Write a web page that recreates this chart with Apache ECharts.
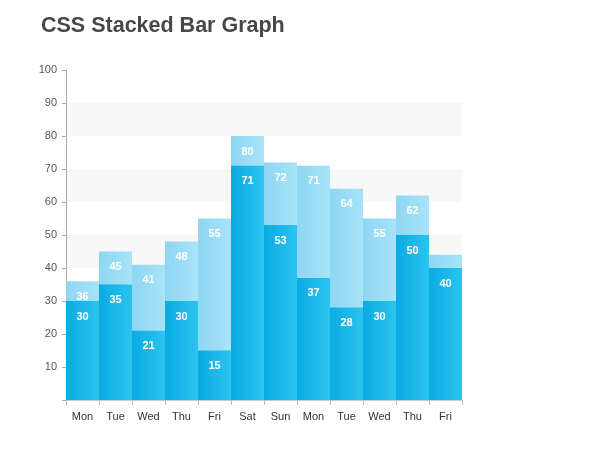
<!DOCTYPE html>
<html>
<head>
<meta charset="utf-8">
<script src="https://cdn.jsdelivr.net/npm/echarts@6/dist/echarts.min.js"></script>
<style>html,body{margin:0;padding:0;background:#fff;}#c{width:600px;height:454px;}</style>
</head>
<body>
<div id="c"></div>
<script>
var categories = ['Mon','Tue','Wed','Thu','Fri','Sat','Sun','Mon','Tue','Wed','Thu','Fri'];
var totalValues = [36,45,41,48,55,80,72,71,64,55,62,44];
var baseValues = [30,35,21,30,15,71,53,37,28,30,50,40];
var showTotalLabel = [true,true,true,true,true,true,true,true,true,true,true,false];

var chart = echarts.init(document.getElementById('c'));
function grad(a, b) {
  return new echarts.graphic.LinearGradient(0, 0, 1, 0, [{offset: 0, color: a}, {offset: 1, color: b}]);
}
var labelStyle = {show: true, position: 'insideTop', distance: 10, color: '#fff', fontWeight: 'bold', fontSize: 11, fontFamily: 'Liberation Sans, Arial, sans-serif'};
chart.setOption({
  animation: false,
  title: {text: 'CSS Stacked Bar Graph', left: 36, top: 10, textStyle: {fontFamily: 'Liberation Sans, Arial, sans-serif', fontWeight: 'bold', fontSize: 21.5, color: '#474747'}},
  grid: {left: 66, right: 138, top: 70, bottom: 54},
  xAxis: {
    type: 'category', data: categories,
    axisLine: {show: true, lineStyle: {color: '#ccc'}},
    axisTick: {show: true, length: 5, lineStyle: {color: '#bbb'}},
    axisLabel: {color: '#333', fontSize: 11, margin: 11, fontFamily: 'Liberation Sans, Arial, sans-serif'}
  },
  yAxis: {
    type: 'value', min: 0, max: 100, interval: 10,
    axisLine: {show: true, lineStyle: {color: '#aaa'}},
    axisTick: {show: true, length: 4, lineStyle: {color: '#aaa'}},
    axisLabel: {color: '#555', fontSize: 11, margin: 9, fontFamily: 'Liberation Sans, Arial, sans-serif', formatter: function (v) { return v === 0 ? '' : v; }},
    splitLine: {show: false},
    splitArea: {show: true, areaStyle: {color: ['#f8f8f8', '#ffffff']}}
  },
  series: [
    {
      type: 'bar', barGap: '-100%', barCategoryGap: 0,
      data: totalValues.map(function (v, i) { return {value: v, label: {show: showTotalLabel[i]}}; }),
      itemStyle: {color: grad('#8ed6f2', '#a8e4f9')},
      label: labelStyle
    },
    {
      type: 'bar', barGap: '-100%', barCategoryGap: 0,
      data: baseValues,
      itemStyle: {color: grad('#0aaae3', '#2cc4ef')},
      label: labelStyle
    }
  ]
});
</script>
</body>
</html>
